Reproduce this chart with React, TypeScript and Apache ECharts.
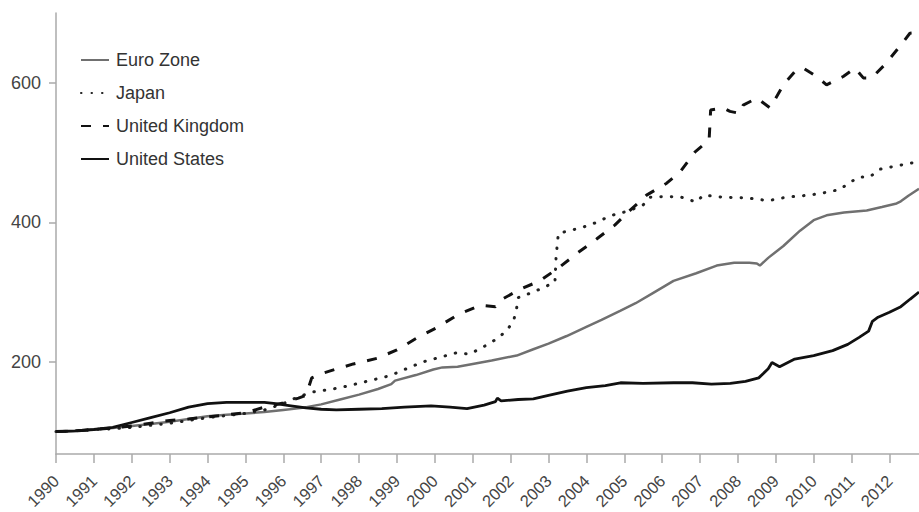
import React, { useEffect, useRef } from "react";
import * as echarts from "echarts";

const seriesNames = ["Euro Zone", "Japan", "United Kingdom", "United States"];
const yearTicks = Array.from({ length: 23 }, (_, i) => 1990 + i);
const valueTicks = [200, 400, 600];

const euroZone: [number, number][] = [
  [1990, 100], [1990.5, 101], [1991, 103], [1991.5, 105], [1992, 108], [1992.5, 111], [1993, 114], [1993.5, 118],
  [1994, 122], [1994.5, 124], [1995, 126], [1995.5, 128], [1996, 131], [1996.5, 134], [1997, 139], [1997.5, 146],
  [1998, 153], [1998.5, 161], [1998.85, 168], [1998.95, 173], [1999.5, 181], [1999.96, 189], [2000.2, 192],
  [2000.6, 193], [2001.0, 197], [2001.5, 202], [2002.16, 209], [2002.6, 218], [2003.0, 226], [2003.48, 237],
  [2004.0, 250], [2004.4, 260], [2004.89, 273], [2005.3, 284], [2005.8, 300], [2006.3, 316], [2006.9, 327],
  [2007.44, 338], [2007.9, 342], [2008.3, 342], [2008.5, 341], [2008.58, 338], [2008.8, 349], [2009.2, 366],
  [2009.64, 388], [2010.0, 403], [2010.34, 410], [2010.8, 414], [2011.4, 417], [2011.8, 422], [2012.19, 427],
  [2012.3, 430], [2012.5, 438], [2012.78, 448],
];

const japan: [number, number][] = [
  [1990, 100], [1990.5, 101], [1991, 103], [1991.5, 104], [1992, 106], [1992.5, 109], [1993, 112], [1993.5, 116],
  [1994, 120], [1994.5, 123], [1995, 126], [1995.5, 131], [1996, 140], [1996.4, 150], [1996.8, 157], [1997.3, 161],
  [1997.67, 165], [1998.2, 172], [1998.81, 180], [1999.2, 189], [1999.69, 200], [2000.1, 206], [2000.57, 213],
  [2000.92, 211], [2001.3, 222], [2001.64, 233], [2001.9, 245], [2002.08, 259], [2002.16, 277], [2002.2, 292],
  [2002.6, 300], [2003.17, 314], [2003.2, 350], [2003.26, 384], [2003.7, 390], [2004.1, 396], [2004.67, 410],
  [2005.1, 416], [2005.5, 425], [2005.68, 436], [2006.12, 437], [2006.5, 436], [2006.9, 429], [2007.09, 439],
  [2007.6, 436], [2008.23, 435], [2008.8, 431], [2009.28, 436], [2009.7, 438], [2010.16, 441], [2010.69, 447],
  [2010.95, 457], [2011.2, 465], [2011.48, 465], [2011.74, 476], [2012.2, 481], [2012.78, 487],
];

const unitedKingdom: [number, number][] = [
  [1990, 100], [1990.5, 101], [1991, 103], [1991.5, 105], [1992, 108], [1992.5, 112], [1993, 116], [1993.5, 118],
  [1994, 121], [1994.5, 124], [1995, 127], [1995.5, 135], [1996, 141], [1996.4, 148], [1996.6, 152], [1996.75, 177],
  [1997.0, 183], [1997.24, 187], [1997.85, 197], [1998.47, 205], [1999.0, 217], [1999.52, 234], [2000.05, 249],
  [2000.62, 268], [2001.2, 281], [2001.6, 279], [2001.72, 288], [2002.25, 304], [2002.77, 316], [2003.3, 336],
  [2003.74, 355], [2004.27, 376], [2004.75, 396], [2005.15, 417], [2005.59, 439], [2006.12, 456], [2006.47, 472],
  [2006.87, 501], [2007.24, 518], [2007.28, 561], [2007.61, 564], [2007.79, 559], [2008.05, 556], [2008.14, 568],
  [2008.5, 578], [2008.85, 564], [2009.2, 597], [2009.55, 619], [2009.73, 621], [2009.9, 615], [2010.08, 609],
  [2010.34, 597], [2010.78, 609], [2011.09, 621], [2011.31, 607], [2011.53, 607], [2011.88, 626], [2012.27, 652],
  [2012.54, 671], [2012.78, 672],
];

const unitedStates: [number, number][] = [
  [1990, 100], [1990.5, 101], [1991, 103], [1991.5, 106], [1992, 113], [1992.5, 120], [1993, 127], [1993.5, 135],
  [1994, 140], [1994.5, 142], [1995, 142], [1995.5, 142], [1995.8, 140], [1996.2, 137], [1996.6, 134], [1997, 132],
  [1997.4, 131], [1998, 132], [1998.6, 133], [1999.2, 135], [1999.9, 137], [2000.4, 135], [2000.85, 133],
  [2001.3, 138], [2001.6, 143], [2001.65, 148], [2001.75, 144], [2002.2, 146], [2002.6, 147], [2003, 152],
  [2003.5, 158], [2004, 163], [2004.5, 166], [2004.9, 170], [2005.5, 169], [2006.3, 170], [2006.8, 170],
  [2007.3, 168], [2007.8, 169], [2008.2, 172], [2008.55, 177], [2008.8, 190], [2008.9, 199], [2009.1, 193],
  [2009.5, 204], [2010, 209], [2010.5, 216], [2010.9, 225], [2011.2, 235], [2011.45, 244], [2011.55, 258],
  [2011.7, 264], [2012, 271], [2012.3, 279], [2012.55, 290], [2012.78, 300],
];

const FONT = "'Liberation Sans', Arial, sans-serif";

export default function App() {
  const ref = useRef<HTMLDivElement>(null);
  useEffect(() => {
    if (!ref.current) return;
    const chart = echarts.init(ref.current, undefined, { renderer: "svg" });
    chart.setOption({
      animation: false,
      backgroundColor: "#ffffff",
      grid: { left: 56, right: 0, top: 13, bottom: 58, containLabel: false },
      legend: {
        orient: "vertical",
        left: 80,
        top: 51,
        padding: 0,
        itemWidth: 28,
        itemHeight: 10,
        itemGap: 15,
        data: seriesNames,
        itemStyle: { opacity: 0, borderWidth: 0 },
        textStyle: { fontFamily: FONT, fontSize: 18, color: "#333", padding: [0, 0, 0, 2] },
      },
      xAxis: {
        type: "value",
        min: 1990,
        max: 2012.78,
        splitLine: { show: false },
        axisLine: { lineStyle: { color: "#aaa", width: 1.5 } },
        axisTick: { customValues: yearTicks, length: 9, lineStyle: { color: "#aaa", width: 1.5 } },
        axisLabel: {
          customValues: yearTicks,
          rotate: 45,
          margin: 24,
          padding: [10, 0, 0, 0],
          fontFamily: FONT,
          fontSize: 16.5,
          color: "#444",
          formatter: (v: number) => String(v),
        },
      },
      yAxis: {
        type: "value",
        min: 68,
        max: 700,
        splitLine: { show: false },
        axisLine: { show: true, lineStyle: { color: "#aaa", width: 1.5 } },
        axisTick: { show: true, customValues: valueTicks, length: 7, lineStyle: { color: "#aaa", width: 1.5 } },
        axisLabel: {
          customValues: valueTicks,
          margin: 15,
          fontFamily: FONT,
          fontSize: 18,
          color: "#444",
        },
      },
      series: [
        {
          name: seriesNames[0],
          type: "line",
          data: euroZone,
          showSymbol: false,
          symbol: "none",
          color: "#707070",
          lineStyle: { color: "#707070", width: 2.5 },
        },
        {
          name: seriesNames[1],
          type: "line",
          data: japan,
          showSymbol: false,
          symbol: "none",
          color: "#222",
          lineStyle: { color: "#222", width: 3, type: [0.5, 10], cap: "round" },
        },
        {
          name: seriesNames[2],
          type: "line",
          data: unitedKingdom,
          showSymbol: false,
          symbol: "none",
          color: "#111",
          lineStyle: { color: "#111", width: 3, type: [10, 12] },
        },
        {
          name: seriesNames[3],
          type: "line",
          data: unitedStates,
          showSymbol: false,
          symbol: "none",
          color: "#111",
          lineStyle: { color: "#111", width: 2.8 },
        },
      ],
    });
    return () => chart.dispose();
  }, []);
  return (
    <div
      ref={ref}
      style={{ position: "fixed", left: 0, top: 0, width: 919, height: 512 }}
    />
  );
}
